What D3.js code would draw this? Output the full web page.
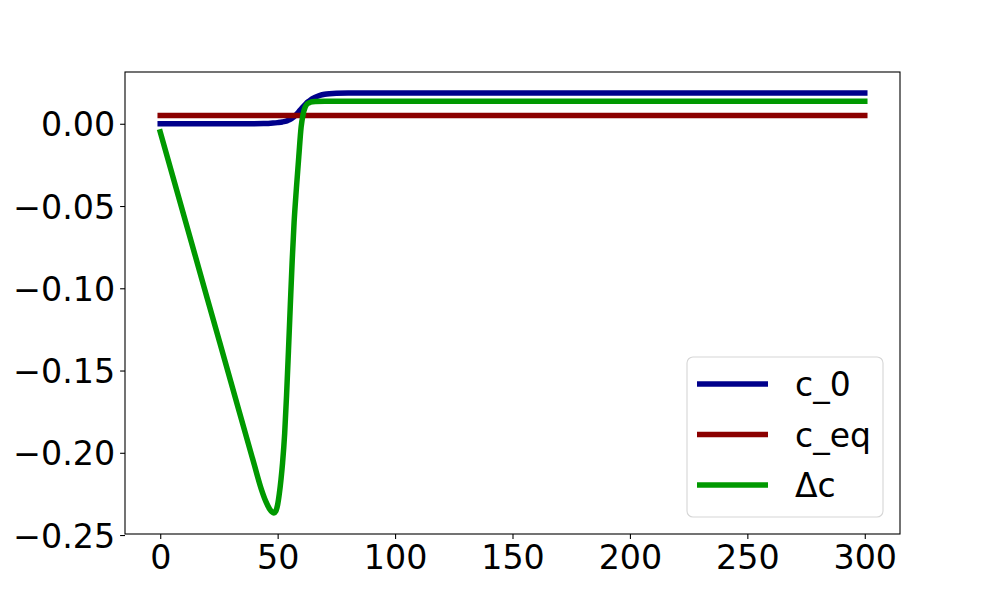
<!DOCTYPE html>
<html>
<head>
<meta charset="utf-8">
<script src="https://cdn.jsdelivr.net/npm/d3@7"></script>
<style>
  html, body { margin: 0; padding: 0; background: #fff; }
  svg { display: block; font-family: "DejaVu Sans", sans-serif; }
</style>
</head>
<body>
<svg id="chart" width="1000" height="600"></svg>
<script>
// ---- data ----
const seriesNames = ["c_0", "c_eq", "Δc"];
const seriesColors = ["#00008B", "#8B0000", "#009900"];

const c0X = [0, 20, 40, 44, 46, 48, 50, 52, 54, 55, 56, 57, 58, 59, 60, 61, 62, 63, 64, 65, 66, 68, 70, 72, 75, 80, 150, 300];
const c0Y = [0, 0, 0, 0.0001, 0.0002, 0.0004, 0.0007, 0.0011, 0.0018, 0.0024, 0.0032, 0.0043, 0.0057, 0.0073, 0.0090, 0.0106, 0.0121, 0.0134, 0.0145, 0.0154, 0.0161, 0.0172, 0.0179, 0.0183, 0.0186, 0.0187, 0.0187, 0.0187];

const ceqX = [0, 300];
const ceqY = [0.005, 0.005];

const dcX = [0, 10, 20, 30, 40, 43, 45, 46.5, 47.5, 48.4, 49.2, 50, 50.7, 51.4, 52.1, 53, 53.8, 54.6, 55.4, 56.2, 57, 58, 59, 60, 60.8, 61.7, 62.6, 64, 66, 70, 150, 300];
const dcY = [-0.005, -0.0555, -0.106, -0.1565, -0.207, -0.2219, -0.2297, -0.2340, -0.2358, -0.2366, -0.2355, -0.2315, -0.2250, -0.2165, -0.2060, -0.1880, -0.1650, -0.1380, -0.1100, -0.0830, -0.0600, -0.0390, -0.0200, -0.0020, 0.0055, 0.0100, 0.0121, 0.0131, 0.0135, 0.0137, 0.0137, 0.0137];

const xTicks = [0, 50, 100, 150, 200, 250, 300];
const yTicks = [0.00, -0.05, -0.10, -0.15, -0.20, -0.25];

// ---- layout ----
const W = 1000, H = 600;
const mLeft = 125, mRight = 900, mTop = 72, mBottom = 534;

const series = [
  { name: seriesNames[0], color: seriesColors[0], pts: c0X.map((x, i) => [x, c0Y[i]]) },
  { name: seriesNames[1], color: seriesColors[1], pts: ceqX.map((x, i) => [x, ceqY[i]]) },
  { name: seriesNames[2], color: seriesColors[2], pts: dcX.map((x, i) => [x, dcY[i]]) }
];

const allX = [].concat(c0X, ceqX, dcX);
const allY = [].concat(c0Y, ceqY, dcY);
const xMin = d3.min(allX), xMax = d3.max(allX);
const yMin = d3.min(allY), yMax = d3.max(allY);
const xPad = (xMax - xMin) * 0.05, yPad = (yMax - yMin) * 0.05;

const x = d3.scaleLinear().domain([xMin - xPad, xMax + xPad]).range([mLeft, mRight]);
const y = d3.scaleLinear().domain([yMin - yPad, yMax + yPad]).range([mBottom, mTop]);

const svg = d3.select("#chart");
svg.append("rect").attr("width", W).attr("height", H).attr("fill", "#fff");

// lines
const line = d3.line().x(d => x(d[0])).y(d => y(d[1])).curve(d3.curveMonotoneX);
svg.append("defs").append("clipPath").attr("id", "clip")
  .append("rect").attr("x", mLeft).attr("y", mTop).attr("width", mRight - mLeft).attr("height", mBottom - mTop);
const g = svg.append("g").attr("clip-path", "url(#clip)");
series.forEach(s => {
  g.append("path").attr("d", line(s.pts)).attr("fill", "none")
    .attr("stroke", s.color).attr("stroke-width", 5.5)
    .attr("stroke-linecap", "square").attr("stroke-linejoin", "round");
});

// axes frame
svg.append("rect").attr("x", mLeft).attr("y", mTop).attr("width", mRight - mLeft).attr("height", mBottom - mTop)
  .attr("fill", "none").attr("stroke", "#000").attr("stroke-width", 1.1);

const fmtY = v => d3.format(".2f")(v).replace("-", "\u2212");
const xAxis = d3.axisBottom(x).tickValues(xTicks).tickSize(4.9).tickPadding(4.9).tickFormat(d3.format("d"));
const yAxis = d3.axisLeft(y).tickValues(yTicks).tickSize(4.9).tickPadding(4.9).tickFormat(fmtY);

const gx = svg.append("g").attr("transform", `translate(0,${mBottom})`).call(xAxis);
const gy = svg.append("g").attr("transform", `translate(${mLeft},0)`).call(yAxis);
[gx, gy].forEach(ax => {
  ax.select(".domain").remove();
  ax.selectAll(".tick line").attr("stroke", "#000").attr("stroke-width", 1.1);
  ax.selectAll(".tick text").attr("fill", "#000").style("font-size", "33.3px")
    .style("font-family", "DejaVu Sans, sans-serif");
});
gx.selectAll(".tick text").attr("dy", "0.76em");
gy.selectAll(".tick text").attr("dy", "0.36em");

// legend
const lg = svg.append("g");
lg.append("rect").attr("x", 687).attr("y", 357).attr("width", 196).attr("height", 160)
  .attr("rx", 6).attr("ry", 6).attr("fill", "#fff").attr("fill-opacity", 0.8)
  .attr("stroke", "#d6d6d6").attr("stroke-width", 1.1);
series.forEach((s, i) => {
  const ly = 384 + i * 50.5;
  lg.append("line").attr("x1", 697).attr("x2", 768).attr("y1", ly).attr("y2", ly)
    .attr("stroke", s.color).attr("stroke-width", 5.5);
  lg.append("text").attr("x", 795).attr("y", ly + 12).text(s.name)
    .attr("fill", "#000").style("font-size", "33px")
    .style("font-family", "DejaVu Sans, sans-serif");
});
</script>
</body>
</html>
